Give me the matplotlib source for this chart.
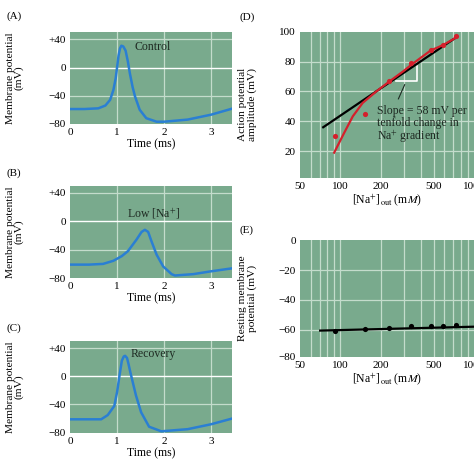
import matplotlib
matplotlib.use("Agg")
import matplotlib.pyplot as plt
from matplotlib.ticker import FixedLocator, NullFormatter

plt.rcParams['font.family'] = ['Liberation Serif', 'DejaVu Serif']
plt.rcParams['mathtext.fontset'] = 'stix'

# action potentials (time in ms, membrane potential in mV)
a_t = [0, 0.3, 0.6, 0.75, 0.85, 0.92, 0.97, 1.03, 1.06, 1.09, 1.13, 1.18, 1.23, 1.27, 1.33, 1.38, 1.48, 1.62, 1.84, 2.0, 2.5, 3.0, 3.47]
a_v = [-59, -59, -58, -54, -46, -32, -15, 17, 27, 31, 30, 24, 8, -8, -28, -41, -60, -72, -77, -77, -74, -67, -58]
b_t = [0, 0.4, 0.7, 0.92, 1.1, 1.23, 1.41, 1.52, 1.59, 1.66, 1.73, 1.84, 1.98, 2.16, 2.23, 2.62, 2.97, 3.47]
b_v = [-61, -61, -60, -55.6, -49, -42, -26, -15, -12, -15, -28, -47, -63.6, -74.4, -76.3, -74.4, -70.7, -66]
c_t = [0, 0.66, 0.8, 0.94, 1.0, 1.05, 1.1, 1.14, 1.17, 1.21, 1.24, 1.28, 1.4, 1.51, 1.68, 1.94, 2.5, 3.0, 3.47]
c_v = [-61, -61, -55, -42, -22, 1, 22, 28, 29, 26, 18, 6, -27, -51, -71.5, -78, -75, -68, -59.5]

# sodium dependence
na_out = [92, 154, 233, 336, 475, 585, 733]
ap_amp = [30, 45, 67, 79, 88, 91, 97]
rest_v = [-60.7, -59.1, -58.7, -57.4, -57.1, -57.4, -56.7]
fit_x = [90, 107, 124, 147, 186, 233, 294, 336, 472, 588, 720]
fit_y = [19, 32.3, 43.3, 52.3, 60, 66.7, 73.3, 77.5, 87.3, 91.1, 95.6]
nernst_x = [74.5, 719]
nernst_y = [36, 95.6]
rest_line_x = [70.7, 1000]
rest_line_y = [-60.4, -57.8]

BG = '#79aa8d'
GRID = '#c4dccc'
BLUE = '#2a7fd3'
RED = '#d4202c'
INK = '#1e2a22'

fig = plt.figure(figsize=(4.74, 4.62), dpi=100)


def style(ax):
    ax.set_facecolor(BG)
    for s in ax.spines.values():
        s.set_visible(False)
    ax.tick_params(length=0, labelsize=8, pad=3)


def ap_panel(rect, t, v, label, lx, ly, letter, ly_letter):
    ax = fig.add_axes(rect)
    style(ax)
    for x in [1, 2, 3]:
        ax.axvline(x, color=GRID, lw=0.9, zorder=1)
    for y in [-40, 40]:
        ax.axhline(y, color=GRID, lw=0.9, zorder=1)
    ax.axhline(0, color='white', lw=1.0, zorder=1)
    ax.plot(t, v, color=BLUE, lw=1.8, zorder=3)
    ax.set_xlim(0, 3.45)
    ax.set_ylim(-80, 50)
    ax.set_xticks([0, 1, 2, 3])
    ax.set_yticks([-80, -40, 0, 40])
    ax.set_yticklabels(['\u221280', '\u221240', '0', '+40'])
    ax.set_xlabel('Time (ms)', fontsize=8.5, labelpad=1)
    ax.set_ylabel('Membrane potential\n(mV)', fontsize=8.2, linespacing=0.95)
    ax.yaxis.set_label_coords(-0.285, 0.5)
    ax.text(lx, ly, label, fontsize=8.5, color=INK, va='center', ha='left')
    fig.text(14 / 474, 1 - ly_letter / 462, letter, fontsize=8, ha='center', va='center')
    return ax


ap_panel([0.148, 0.732, 0.342, 0.198], a_t, a_v, 'Control', 1.38, 29, '(A)', 16)
ap_panel([0.148, 0.398, 0.342, 0.200], b_t, b_v, 'Low [Na$^{+}$]', 1.2, 10, '(B)', 173)
ap_panel([0.148, 0.0634, 0.342, 0.1985], c_t, c_v, 'Recovery', 1.28, 31, '(C)', 328)

xgrid = [60, 70, 80, 90, 100, 200, 300, 400, 500, 600, 700, 800, 900]
xlab = r'[Na$^{+}$]$_{\mathrm{out}}$ (m$M$)'

# (D) amplitude
axd = fig.add_axes([0.633, 0.6147, 0.367, 0.3167])
style(axd)
axd.set_xscale('log')
for x in xgrid:
    axd.axvline(x, color=GRID, lw=0.9, zorder=1)
for y in [20, 40, 60, 80]:
    axd.axhline(y, color=GRID, lw=0.9, zorder=1)
axd.plot(nernst_x, nernst_y, color='black', lw=1.6, zorder=3)
axd.plot(fit_x, fit_y, color=RED, lw=1.6, zorder=3)
axd.scatter(na_out, ap_amp, s=14, color=RED, zorder=4, linewidths=0)
axd.plot([259, 377, 377], [67.1, 67.1, 77.1], color='white', lw=1.2, zorder=2)
axd.plot([303, 272], [64.5, 55], color=INK, lw=0.8, zorder=2)
axd.text(187, 51, 'Slope = 58 mV per\ntenfold change in\nNa$^{+}$ gradient', fontsize=8.5,
         color=INK, va='top', ha='left', linespacing=1.0)
axd.set_xlim(50, 1000)
axd.set_ylim(2, 100)
axd.xaxis.set_major_locator(FixedLocator([50, 100, 200, 500, 1000]))
axd.xaxis.set_minor_formatter(NullFormatter())
axd.tick_params(which='minor', length=0)
axd.set_xticklabels(['50', '100', '200', '500', '1000'])
axd.set_yticks([20, 40, 60, 80, 100])
axd.set_xlabel(xlab, fontsize=8.5, labelpad=1)
axd.set_ylabel('Action potential\namplitude (mV)', fontsize=8.2, linespacing=0.95)
axd.yaxis.set_label_coords(-0.25, 0.5)
fig.text(247 / 474, 1 - 17 / 462, '(D)', fontsize=8, ha='center', va='center')

# (E) resting potential
axe = fig.add_axes([0.633, 0.2273, 0.367, 0.2532])
style(axe)
axe.set_xscale('log')
for x in xgrid:
    axe.axvline(x, color=GRID, lw=0.9, zorder=1)
for y in [-60, -40, -20]:
    axe.axhline(y, color=GRID, lw=0.9, zorder=1)
axe.plot(rest_line_x, rest_line_y, color='black', lw=1.6, zorder=3)
axe.scatter(na_out, rest_v, s=14, color='black', zorder=4, linewidths=0)
axe.set_xlim(50, 1000)
axe.set_ylim(-78, 0)
axe.xaxis.set_major_locator(FixedLocator([50, 100, 200, 500, 1000]))
axe.xaxis.set_minor_formatter(NullFormatter())
axe.tick_params(which='minor', length=0)
axe.set_xticklabels(['50', '100', '200', '500', '1000'])
axe.set_yticks([-78, -60, -40, -20, 0])
axe.set_yticklabels(['\u221280', '\u221260', '\u221240', '\u221220', '0'])
axe.set_xlabel(xlab, fontsize=8.5, labelpad=1)
axe.set_ylabel('Resting membrane\npotential (mV)', fontsize=8.2, linespacing=0.95)
axe.yaxis.set_label_coords(-0.25, 0.5)
fig.text(247 / 474, 1 - 230 / 462, '(E)', fontsize=8, ha='center', va='center')

fig.savefig('out.png', dpi=100)
